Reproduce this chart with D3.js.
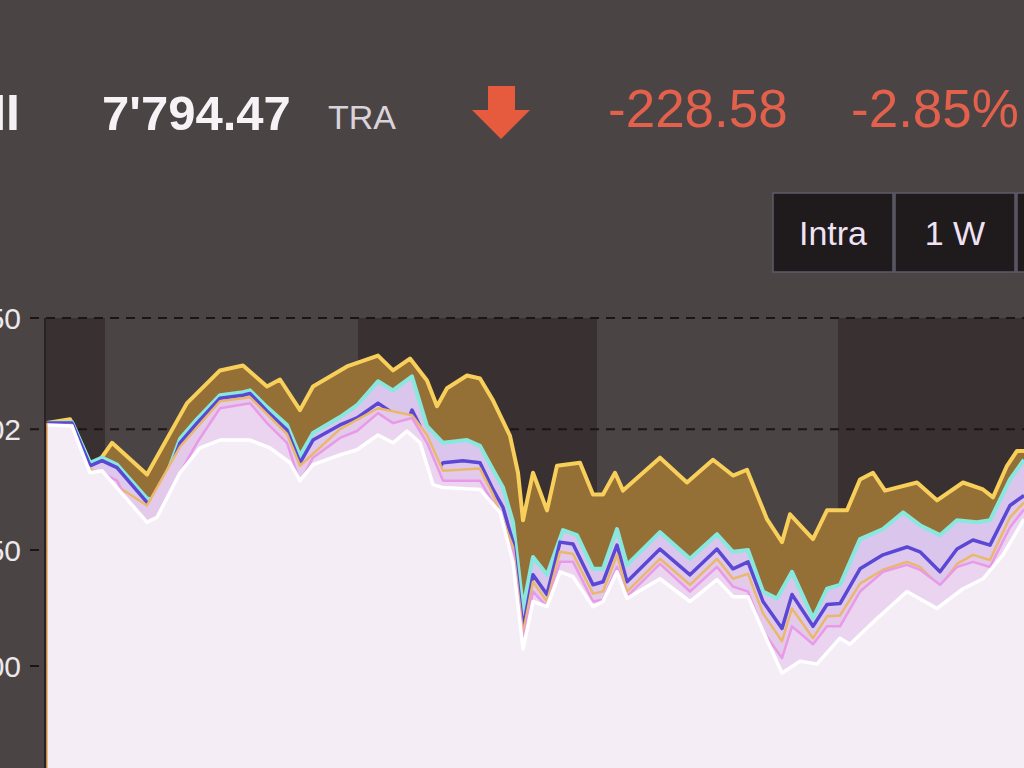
<!DOCTYPE html>
<html><head><meta charset="utf-8">
<script src="https://cdn.jsdelivr.net/npm/d3@7"></script>
<style>html,body{margin:0;padding:0;background:#4b4444;overflow:hidden}svg{display:block}</style>
</head><body>
<svg id="c" width="1024" height="768"></svg>
<script>
// ---- header values ----
const indexName = "SMI";
const lastValue = "7'794.47";
const unitLabel = "TRA";
const changeAbs = "-228.58";
const changePct = "-2.85%";
const rangeButtons = ["Intra", "1 W", "1 M"];

// ---- axis ----
const yTicks = [8050, 8002, 7950, 7900];
const yTickLabels = ["8'050", "8'002", "7'950", "7'900"];
// trading-day shading (minutes since first point)
const dayBands = [[0, 116], [622, 1100], [1582, 1954]];

// ---- series: [minute, value] ----
const seriesTop = [[0,8004.7],[46,8006.4],[92,7984.6],[130,7996.2],[200,7982.5],[280,8013.3],[346,8027.4],[392,8029.5],[440,8020.5],[466,8023.5],[506,8010.3],[532,8020.5],[600,8029.1],[662,8033.8],[692,8027.4],[726,8032.5],[760,8023.1],[780,8012.0],[800,8019.7],[840,8025.2],[866,8023.9],[892,8014.5],[926,7999.2],[942,7983.3],[952,7962.8],[972,7983.3],[1000,7967.1],[1020,7986.3],[1066,7987.6],[1092,7973.9],[1112,7973.9],[1136,7983.3],[1152,7975.6],[1226,7989.8],[1280,7979.1],[1332,7988.9],[1372,7982.1],[1400,7984.6],[1440,7963.3],[1470,7953.4],[1486,7965.4],[1532,7954.7],[1560,7967.1],[1600,7967.1],[1626,7980.4],[1652,7983.3],[1676,7975.6],[1740,7979.1],[1780,7971.4],[1832,7979.1],[1872,7976.1],[1892,7972.7],[1920,7986.3],[1940,7992.7],[1954,7992.7]];

const seriesCyan = [[0,8004.7],[50,8005.1],[86,7987.6],[110,7989.8],[140,7986.8],[200,7972.2],[220,7971.4],[266,7997.9],[300,8006.4],[346,8016.7],[392,8018.0],[406,8018.8],[440,8011.6],[480,8003.9],[506,7990.6],[532,8000.4],[586,8007.3],[620,8012.4],[662,8022.7],[692,8018.8],[730,8024.8],[760,8003.4],[792,7996.2],[840,7997.4],[866,7994.9],[892,7984.6],[912,7976.9],[932,7962.0],[952,7924.8],[972,7947.0],[1000,7939.3],[1032,7958.6],[1060,7956.4],[1092,7941.9],[1112,7941.9],[1140,7959.0],[1160,7943.6],[1226,7957.7],[1286,7946.2],[1340,7956.8],[1372,7949.2],[1402,7950.0],[1432,7932.1],[1460,7929.1],[1490,7940.6],[1532,7920.5],[1560,7933.3],[1586,7935.0],[1626,7954.7],[1672,7959.0],[1712,7966.2],[1746,7960.7],[1786,7956.4],[1820,7962.8],[1860,7962.0],[1886,7962.8],[1926,7980.4],[1954,7988.9]];

const seriesBlue = [[0,8004.7],[50,8004.7],[86,7986.3],[110,7988.5],[140,7985.5],[200,7970.5],[220,7969.2],[266,7996.2],[300,8004.7],[346,8015.4],[392,8016.7],[406,8017.5],[440,8009.8],[480,8001.7],[506,7987.6],[532,7997.4],[586,8003.9],[620,8006.9],[662,8013.3],[692,8009.0],[720,8004.7],[730,8010.3],[746,8003.4],[772,7982.1],[792,7987.6],[832,7988.5],[866,7987.6],[892,7976.1],[912,7968.4],[932,7953.4],[952,7916.2],[972,7939.3],[1000,7930.8],[1026,7953.4],[1052,7952.6],[1092,7935.0],[1112,7936.3],[1140,7952.1],[1160,7936.3],[1226,7950.4],[1286,7939.3],[1340,7950.4],[1372,7941.9],[1402,7944.9],[1432,7927.8],[1470,7916.2],[1490,7930.8],[1532,7917.1],[1560,7926.5],[1586,7926.9],[1626,7941.9],[1672,7947.9],[1720,7951.3],[1746,7949.2],[1786,7940.6],[1820,7950.4],[1852,7954.3],[1886,7952.1],[1926,7969.2],[1954,7973.5]];

const seriesOrange = [[0,8004.3],[86,7985.1],[200,7969.2],[266,7994.5],[346,8014.1],[406,8015.8],[480,8000.0],[506,7986.3],[586,8002.1],[662,8011.1],[730,8008.1],[760,7999.6],[792,7984.2],[866,7985.1],[892,7973.9],[932,7951.3],[952,7914.1],[972,7936.3],[1000,7927.8],[1026,7949.2],[1052,7948.3],[1092,7931.2],[1112,7932.1],[1140,7947.9],[1160,7932.1],[1226,7946.2],[1286,7935.0],[1340,7946.2],[1372,7937.6],[1402,7939.7],[1432,7922.7],[1470,7910.7],[1490,7924.8],[1532,7912.0],[1560,7921.4],[1586,7921.8],[1626,7935.5],[1672,7941.5],[1720,7944.9],[1746,7942.7],[1786,7934.2],[1820,7944.0],[1852,7947.9],[1886,7945.7],[1926,7964.1],[1954,7970.5]];

const seriesPink = [[0,8003.9],[50,8003.9],[86,7979.9],[110,7983.3],[140,7979.9],[200,7953.4],[220,7955.6],[266,7983.3],[300,7996.2],[346,8011.1],[406,8013.3],[440,8004.7],[480,7996.2],[506,7979.1],[532,7989.8],[586,7998.3],[620,8001.3],[662,8009.0],[692,8004.7],[730,8006.9],[760,7996.2],[792,7979.9],[866,7979.9],[892,7970.5],[932,7949.2],[952,7910.7],[972,7932.1],[1000,7925.6],[1026,7944.9],[1052,7944.9],[1092,7927.8],[1112,7928.6],[1140,7942.7],[1160,7929.9],[1226,7944.0],[1286,7932.1],[1340,7942.7],[1372,7934.2],[1402,7932.1],[1432,7915.0],[1470,7903.4],[1490,7917.1],[1532,7909.4],[1560,7917.1],[1586,7917.1],[1626,7932.1],[1672,7940.6],[1720,7943.6],[1746,7941.5],[1786,7935.0],[1820,7942.7],[1852,7944.9],[1886,7942.7],[1926,7959.8],[1954,7967.5]];

const seriesWhite = [[0,8003.9],[50,8003.4],[86,7983.3],[110,7984.2],[200,7962.0],[220,7964.1],[266,7983.3],[306,7994.0],[346,7997.4],[406,7997.4],[446,7994.0],[486,7987.6],[506,7979.9],[532,7986.8],[586,7991.0],[620,7993.2],[662,7999.6],[692,7996.2],[720,8001.3],[746,7996.2],[772,7978.2],[792,7976.9],[866,7976.1],[906,7966.2],[932,7944.9],[952,7907.3],[972,7927.8],[1000,7925.6],[1026,7940.6],[1052,7938.5],[1092,7925.6],[1112,7927.8],[1140,7940.6],[1160,7929.1],[1226,7937.6],[1286,7927.8],[1340,7937.2],[1372,7929.9],[1402,7929.9],[1432,7915.0],[1470,7897.0],[1506,7902.1],[1540,7900.9],[1586,7912.0],[1606,7909.4],[1660,7920.5],[1720,7932.1],[1780,7924.8],[1832,7933.3],[1872,7937.6],[1912,7947.9],[1954,7963.3]];

const layers = [
  {data: seriesTop,    fill: "#946f36", stroke: "#f7cf5a", w: 4},
  {data: seriesCyan,   fill: "#dac6ec", stroke: "#88e8de", w: 4},
  {data: seriesBlue,   fill: "#dec8ee", stroke: "#5a48d4", w: 3.5},
  {data: seriesOrange, fill: "#e4caea", stroke: "#eab86c", w: 2.5},
  {data: seriesPink,   fill: "#ead4ef", stroke: "#e89ae8", w: 2.5},
  {data: seriesWhite,  fill: "#f4edf5", stroke: "#ffffff", w: 3.5}
];

const svg = d3.select("#c");
const W = 1024, H = 768;
const plotBottom = 768, plotLeft = 45;

const x = d3.scaleLinear().domain([0, 1954]).range([47, 1024]);
const y = d3.scaleLinear().domain([7900, 8050]).range([666, 318]);
const plotTop = y(8050);

// background
svg.append("rect").attr("width", W).attr("height", H).attr("fill", "#4b4444");

// header
const font = "'Liberation Sans', Arial, sans-serif";
svg.append("text").attr("x", 20).attr("y", 130).attr("text-anchor", "end")
  .attr("font-family", font).attr("font-weight", "bold").attr("font-size", 50)
  .attr("fill", "#f4f0f4").text(indexName);
svg.append("text").attr("x", 102).attr("y", 130)
  .attr("font-family", font).attr("font-weight", "bold").attr("font-size", 49)
  .attr("fill", "#f6f2f6").text(lastValue);
svg.append("text").attr("x", 328).attr("y", 129)
  .attr("font-family", font).attr("font-size", 34)
  .attr("fill", "#d9d2da").text(unitLabel);
svg.append("path")
  .attr("d", "M488,86 L515,86 L515,110 L530,110 L501,139 L472,110 L488,110 Z")
  .attr("fill", "#e65a3e");
svg.append("text").attr("x", 608).attr("y", 127)
  .attr("font-family", font).attr("font-size", 53)
  .attr("fill", "#e2604c").text(changeAbs);
svg.append("text").attr("x", 851).attr("y", 127)
  .attr("font-family", font).attr("font-size", 53)
  .attr("fill", "#e2604c").text(changePct);

// buttons
const btn = svg.append("g");
rangeButtons.forEach((b, i) => {
  const bx = 773 + i * 122;
  btn.append("rect").attr("x", bx).attr("y", 193).attr("width", 120).attr("height", 79)
    .attr("fill", "#1f1a1c").attr("stroke", "#5d5b6a").attr("stroke-width", 1.5);
  btn.append("text").attr("x", bx + 60).attr("y", 245).attr("text-anchor", "middle")
    .attr("font-family", font).attr("font-size", 34).attr("fill", "#f0e2f4").text(b);
});

// day bands
svg.append("g").selectAll("rect").data(dayBands).join("rect")
  .attr("x", d => d[0] === 0 ? plotLeft : x(d[0]))
  .attr("width", d => x(d[1]) - (d[0] === 0 ? plotLeft : x(d[0])))
  .attr("y", plotTop).attr("height", plotBottom - plotTop)
  .attr("fill", "#393131");

// grid
svg.append("g").selectAll("line").data(yTicks).join("line")
  .attr("x1", 30).attr("x2", W).attr("y1", d => y(d)).attr("y2", d => y(d))
  .attr("stroke", "#1b1515").attr("stroke-width", 2).attr("stroke-dasharray", "9,7");

// y labels
svg.append("g").selectAll("text").data(yTicks).join("text")
  .attr("x", 21).attr("y", d => y(d) + 11).attr("text-anchor", "end")
  .attr("font-family", font).attr("font-size", 30).attr("fill", "#ece8ec")
  .text((d, i) => yTickLabels[i]);

// areas
const area = d3.area().x(d => x(d[0])).y0(plotBottom).y1(d => y(d[1]));
const line = d3.line().x(d => x(d[0])).y(d => y(d[1]));
layers.forEach(L => {
  svg.append("path").datum(L.data).attr("d", area).attr("fill", L.fill);
  svg.append("path").datum(L.data).attr("d", line).attr("fill", "none")
    .attr("stroke", L.stroke).attr("stroke-width", L.w).attr("stroke-linejoin", "round");
});

// left axis line
svg.append("line").attr("x1", plotLeft).attr("x2", plotLeft).attr("y1", plotTop).attr("y2", plotBottom)
  .attr("stroke", "#2a2222").attr("stroke-width", 2);
svg.append("line").attr("x1", 47).attr("x2", 47).attr("y1", y(seriesTop[0][1])).attr("y2", plotBottom)
  .attr("stroke", "#e8a85a").attr("stroke-width", 1.5);
</script>
</body></html>
